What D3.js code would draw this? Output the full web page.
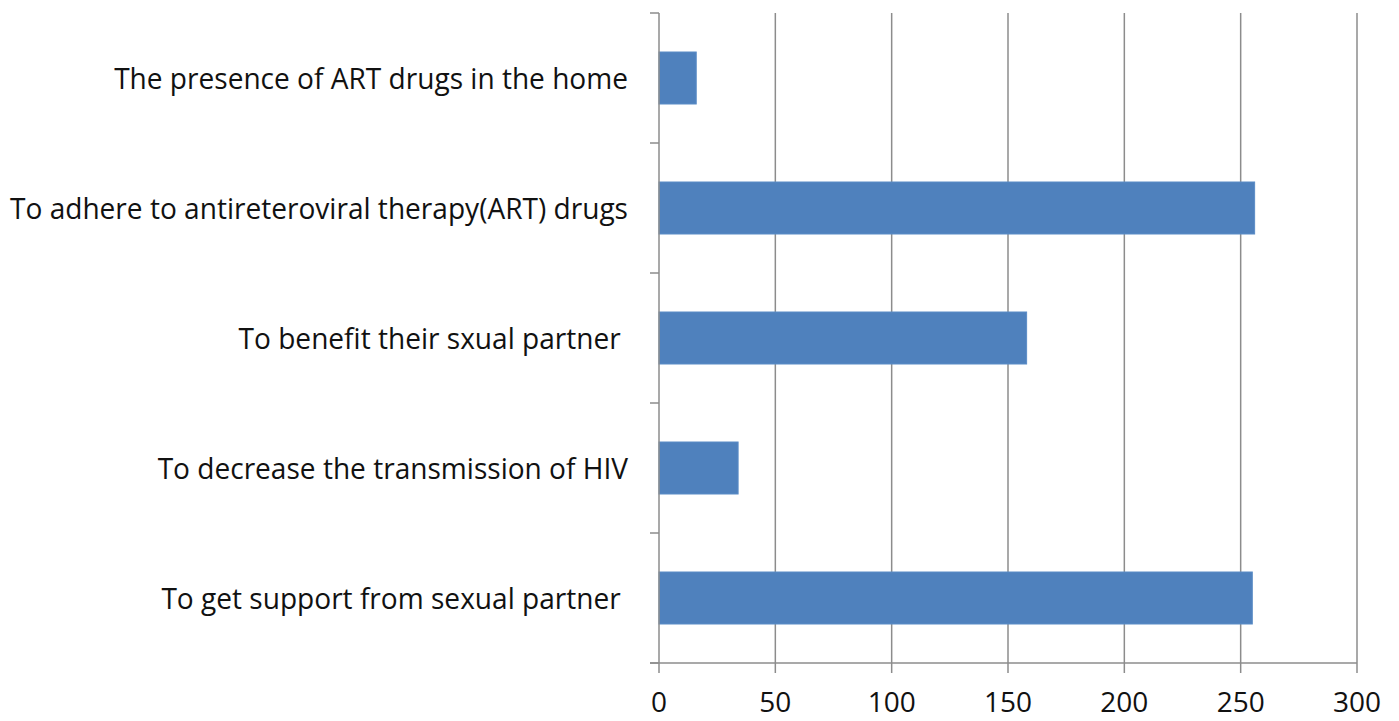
<html>
<head>
<style>
    body { margin: 0; background: #fff; }
    svg { display: block; }
    text { font-family: "Open Sans", sans-serif; fill: #111; }
</style>
</head>
<body>
<svg width="1399" height="721"></svg>
<script src="https://cdn.jsdelivr.net/npm/d3@7/dist/d3.min.js"></script>
<script>
    const categories = [
        'The presence of ART drugs in the home',
        'To adhere to antireteroviral therapy(ART) drugs',
        'To benefit their sxual partner ',
        'To decrease the transmission of HIV',
        'To get support from sexual partner '
    ];
    const values = [16, 256, 158, 34, 255];
    const xTicks = [0, 50, 100, 150, 200, 250, 300];

    const svg = d3.select('svg');
    const plotLeft = 659, plotRight = 1357, plotTop = 13, plotBottom = 663;
    const axisColor = '#8c8c8c';

    const x = d3.scaleLinear().domain([0, 300]).range([plotLeft, plotRight]);
    const y = d3.scaleBand().domain(categories).range([plotTop, plotBottom])
        .paddingInner(0.6).paddingOuter(0.3);

    // vertical gridlines
    svg.append('g')
        .selectAll('line')
        .data(xTicks.slice(1))
        .enter().append('line')
        .attr('x1', d => x(d)).attr('x2', d => x(d))
        .attr('y1', plotTop).attr('y2', plotBottom)
        .attr('stroke', axisColor).attr('stroke-width', 1.5);

    // bars
    svg.append('g')
        .selectAll('rect')
        .data(values)
        .enter().append('rect')
        .attr('x', x(0))
        .attr('y', (d, i) => y(categories[i]))
        .attr('width', d => x(d) - x(0))
        .attr('height', y.bandwidth())
        .attr('fill', '#4f81bd')
        .attr('stroke', '#5b8cc6')
        .attr('stroke-width', 1);

    // x axis
    const xAxis = svg.append('g');
    xAxis.append('line')
        .attr('x1', plotLeft - 9).attr('x2', plotRight)
        .attr('y1', plotBottom).attr('y2', plotBottom)
        .attr('stroke', axisColor).attr('stroke-width', 1.5);
    xAxis.selectAll('.tick')
        .data(xTicks)
        .enter().append('line')
        .attr('x1', d => x(d)).attr('x2', d => x(d))
        .attr('y1', plotBottom).attr('y2', plotBottom + 10)
        .attr('stroke', axisColor).attr('stroke-width', 1.5);
    xAxis.selectAll('text')
        .data(xTicks)
        .enter().append('text')
        .attr('x', d => x(d))
        .attr('y', 712)
        .attr('text-anchor', 'middle')
        .attr('font-size', 28)
        .text(d => d);

    // y axis
    const yAxis = svg.append('g');
    yAxis.append('line')
        .attr('x1', plotLeft).attr('x2', plotLeft)
        .attr('y1', plotTop).attr('y2', plotBottom)
        .attr('stroke', axisColor).attr('stroke-width', 1.5);
    const bounds = categories.map(c => y(c) - y.step() * 0.3).concat([plotBottom]);
    yAxis.selectAll('.tick')
        .data(bounds)
        .enter().append('line')
        .attr('x1', plotLeft - 9).attr('x2', plotLeft)
        .attr('y1', d => d).attr('y2', d => d)
        .attr('stroke', axisColor).attr('stroke-width', 1.5);

    const labels = yAxis.selectAll('text')
        .data(categories)
        .enter().append('text')
        .attr('x', 628)
        .attr('y', d => y(d) + y.bandwidth() / 2)
        .attr('dy', '0.35em')
        .attr('text-anchor', 'end')
        .attr('font-size', 30)
        .style('white-space', 'pre')
        .text(d => d);

    // squeeze labels to a narrower (Calibri-like) width
    const ref = labels.filter((d, i) => i === 1).node().getComputedTextLength();
    const k = 618 / ref;
    labels.each(function () {
        const w = this.getComputedTextLength();
        d3.select(this).attr('textLength', w * k).attr('lengthAdjust', 'spacingAndGlyphs');
    });
</script>
</body>
</html>
